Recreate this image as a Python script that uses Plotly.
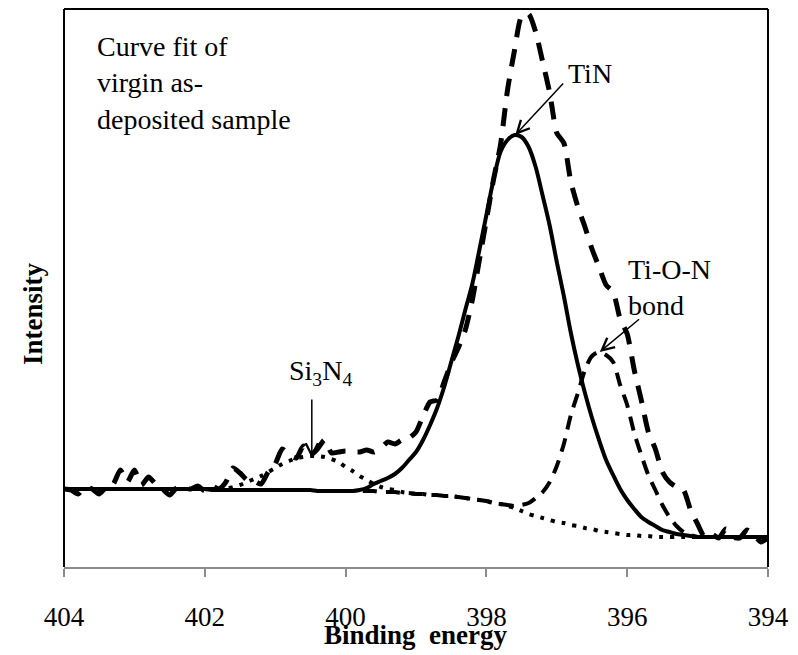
import plotly.graph_objects as go

# Binding energy grid (eV), high to low, 0.1 eV steps
binding_energy = [
    404.0, 403.9, 403.8, 403.7, 403.6, 403.5, 403.4, 403.3, 403.2, 403.1,
    403.0, 402.9, 402.8, 402.7, 402.6, 402.5, 402.4, 402.3, 402.2, 402.1,
    402.0, 401.9, 401.8, 401.7, 401.6, 401.5, 401.4, 401.3, 401.2, 401.1,
    401.0, 400.9, 400.8, 400.7, 400.6, 400.5, 400.4, 400.3, 400.2, 400.1,
    400.0, 399.9, 399.8, 399.7, 399.6, 399.5, 399.4, 399.3, 399.2, 399.1,
    399.0, 398.9, 398.8, 398.7, 398.6, 398.5, 398.4, 398.3, 398.2, 398.1,
    398.0, 397.9, 397.8, 397.7, 397.6, 397.5, 397.4, 397.3, 397.2, 397.1,
    397.0, 396.9, 396.8, 396.7, 396.6, 396.5, 396.4, 396.3, 396.2, 396.1,
    396.0, 395.9, 395.8, 395.7, 395.6, 395.5, 395.4, 395.3, 395.2, 395.1,
    395.0, 394.9, 394.8, 394.7, 394.6, 394.5, 394.4, 394.3, 394.2, 394.1,
    394.0,
]

# Measured N 1s spectrum (arb. units)
measured = [
    78, 77, 73, 80, 78, 73, 80, 83, 97, 85,
    97, 82, 90, 83, 78, 72, 79, 79, 78, 81,
    76, 81, 78, 85, 99, 94, 87, 86, 83, 95,
    103, 118, 112, 109, 121, 112, 118, 127, 114, 115,
    116, 115, 115, 117, 115, 119, 125, 123, 127, 129,
    135, 151, 165, 167, 185, 204, 219, 237, 267, 307,
    347, 387, 422, 477, 517, 551, 553, 535, 505, 474,
    434, 424, 385, 360, 340, 318, 300, 282, 275, 248,
    233, 197, 167, 135, 118, 95, 85, 80, 77, 57,
    43, 30, 33, 29, 38, 30, 29, 37, 32, 25,
    29,
]

# TiN component on background
tin_fit = [
    78, 78, 78, 78, 78, 78, 78, 78, 78, 78,
    78, 78, 78, 78, 78, 78, 78, 78, 78, 78,
    78, 77, 77, 77, 77, 77, 77, 77, 77, 77,
    77, 77, 77, 77, 77, 77, 76, 76, 76, 76,
    76, 76, 77, 79, 83, 86, 89, 93, 99, 107,
    115, 127, 142, 159, 180, 205, 230, 257, 283, 317,
    352, 387, 415, 427, 432, 430, 420, 400, 371, 341,
    305, 271, 234, 202, 174, 149, 127, 107, 92, 78,
    67, 58, 50, 45, 41, 37, 35, 33, 32, 31,
    30, 30, 30, 30, 30, 30, 30, 30, 30, 30,
    30,
]

# Si3N4 component on background
si3n4_fit = [
    78, 78, 78, 78, 78, 78, 78, 78, 78, 78,
    78, 78, 78, 78, 78, 78, 78, 78, 78, 78,
    78, 78, 78, 78, 80, 82, 85, 88, 91, 95,
    99, 103, 106, 109, 110, 111, 111, 110, 108, 105,
    100, 96, 91, 87, 83, 80, 78, 77, 75, 74,
    73, 73, 72, 72, 71, 71, 70, 69, 68, 67,
    66, 64, 63, 61, 59, 56, 53, 51, 49, 47,
    45, 44, 42, 41, 39, 38, 36, 35, 34, 33,
    32, 32, 31, 31, 30, 30, 30, 30, 30, 30,
    30, 30, 30, 30, 30, 30, 30, 30, 30, 30,
    30,
]

# Ti-O-N component on background
tion_fit = [
    78, 78, 78, 78, 78, 78, 78, 78, 78, 78,
    78, 78, 78, 78, 78, 78, 78, 78, 78, 78,
    78, 78, 78, 77, 77, 77, 77, 77, 77, 77,
    77, 77, 77, 77, 77, 77, 76, 76, 76, 76,
    76, 76, 76, 76, 76, 75, 75, 75, 74, 74,
    73, 73, 72, 72, 71, 71, 70, 69, 68, 67,
    66, 64, 63, 62, 61, 62, 64, 69, 75, 85,
    101, 123, 152, 174, 197, 211, 215, 212, 205, 182,
    162, 134, 112, 92, 77, 62, 50, 41, 35, 32,
    30, 30, 30, 30, 30, 30, 30, 30, 30, 30,
    30,
]

x_ticks = [404, 402, 400, 398, 396, 394]

SERIF = "Liberation Serif, Times New Roman, serif"

fig = go.Figure()

fig.add_trace(go.Scatter(
    x=binding_energy, y=si3n4_fit, mode="lines",
    line=dict(color="black", width=4, dash="4px,7px", shape="spline", smoothing=0.8),
    name="Si3N4", hoverinfo="skip"))
fig.add_trace(go.Scatter(
    x=binding_energy, y=tion_fit, mode="lines",
    line=dict(color="black", width=4, dash="14px,9px", shape="spline", smoothing=0.8),
    name="Ti-O-N", hoverinfo="skip"))
fig.add_trace(go.Scatter(
    x=binding_energy, y=tin_fit, mode="lines",
    line=dict(color="black", width=4, shape="spline", smoothing=0.8),
    name="TiN", hoverinfo="skip"))
fig.add_trace(go.Scatter(
    x=binding_energy, y=measured, mode="lines",
    line=dict(color="black", width=5, dash="18px,12px", shape="spline", smoothing=0.6),
    name="measured", hoverinfo="skip"))

# Frame: black on left, top and right; bottom is the grey x axis
for x0, y0, x1, y1 in [(0, 0, 0, 1), (0, 1, 1, 1), (1, 0, 1, 1)]:
    fig.add_shape(type="line", xref="paper", yref="paper",
                  x0=x0, y0=y0, x1=x1, y1=y1,
                  line=dict(color="black", width=2))

text_font = dict(family=SERIF, size=28, color="black")

fig.add_annotation(
    text="Curve fit of<br>virgin as-<br>deposited sample",
    xref="x", yref="y", x=403.56, y=538, xanchor="left", yanchor="top",
    align="left", showarrow=False, font=text_font)
fig.add_annotation(text="TiN", xref="x", yref="y", x=396.53, y=494,
                   showarrow=False, font=text_font)
fig.add_annotation(text="Ti-O-N<br>bond", xref="x", yref="y", x=396.02, y=280,
                   xanchor="left", align="left", showarrow=False, font=text_font)
fig.add_annotation(text="Si<sub>3</sub>N<sub>4</sub>", xref="x", yref="y",
                   x=400.36, y=195, showarrow=False, font=text_font)

# Pointer arrows
arrow_style = dict(text="", showarrow=True, arrowhead=5, arrowsize=1.6,
                   arrowwidth=1.5, arrowcolor="black",
                   xref="x", yref="y", axref="x", ayref="y")
fig.add_annotation(x=397.59, y=432, ax=396.89, ay=485, **arrow_style)
fig.add_annotation(x=396.39, y=215, ax=395.81, ay=249, **arrow_style)
fig.add_annotation(x=400.48, y=109, ax=400.48, ay=169, **arrow_style)

# Axis titles
title_font = dict(family=SERIF, size=27, color="black")
fig.add_annotation(text="<b>Binding\u00a0 energy</b>", xref="paper", yref="paper",
                   x=0.5, y=-0.122, xanchor="center", yanchor="middle",
                   showarrow=False, font=title_font)
fig.add_annotation(text="<b>Intensity</b>", xref="paper", yref="paper",
                   x=-0.044, y=(567 - 314) / 558, xanchor="center", yanchor="middle",
                   textangle=-90, showarrow=False, font=title_font)

fig.update_xaxes(
    range=[404, 394], tickvals=x_ticks, ticktext=[str(t) for t in x_ticks],
    showline=True, linecolor="#8c8c8c", linewidth=1.5,
    ticks="outside", ticklen=8, tickwidth=1.5, tickcolor="#8c8c8c",
    ticklabelstandoff=17,
    tickfont=dict(family=SERIF, size=27, color="black"),
    showgrid=False, zeroline=False)
fig.update_yaxes(range=[0, 558], showticklabels=False, showgrid=False,
                 zeroline=False, showline=False, ticks="")

fig.update_layout(
    width=798, height=655,
    margin=dict(l=64, r=27, t=9, b=88),
    plot_bgcolor="white", paper_bgcolor="white",
    showlegend=False,
)

fig.write_html("out.html")
